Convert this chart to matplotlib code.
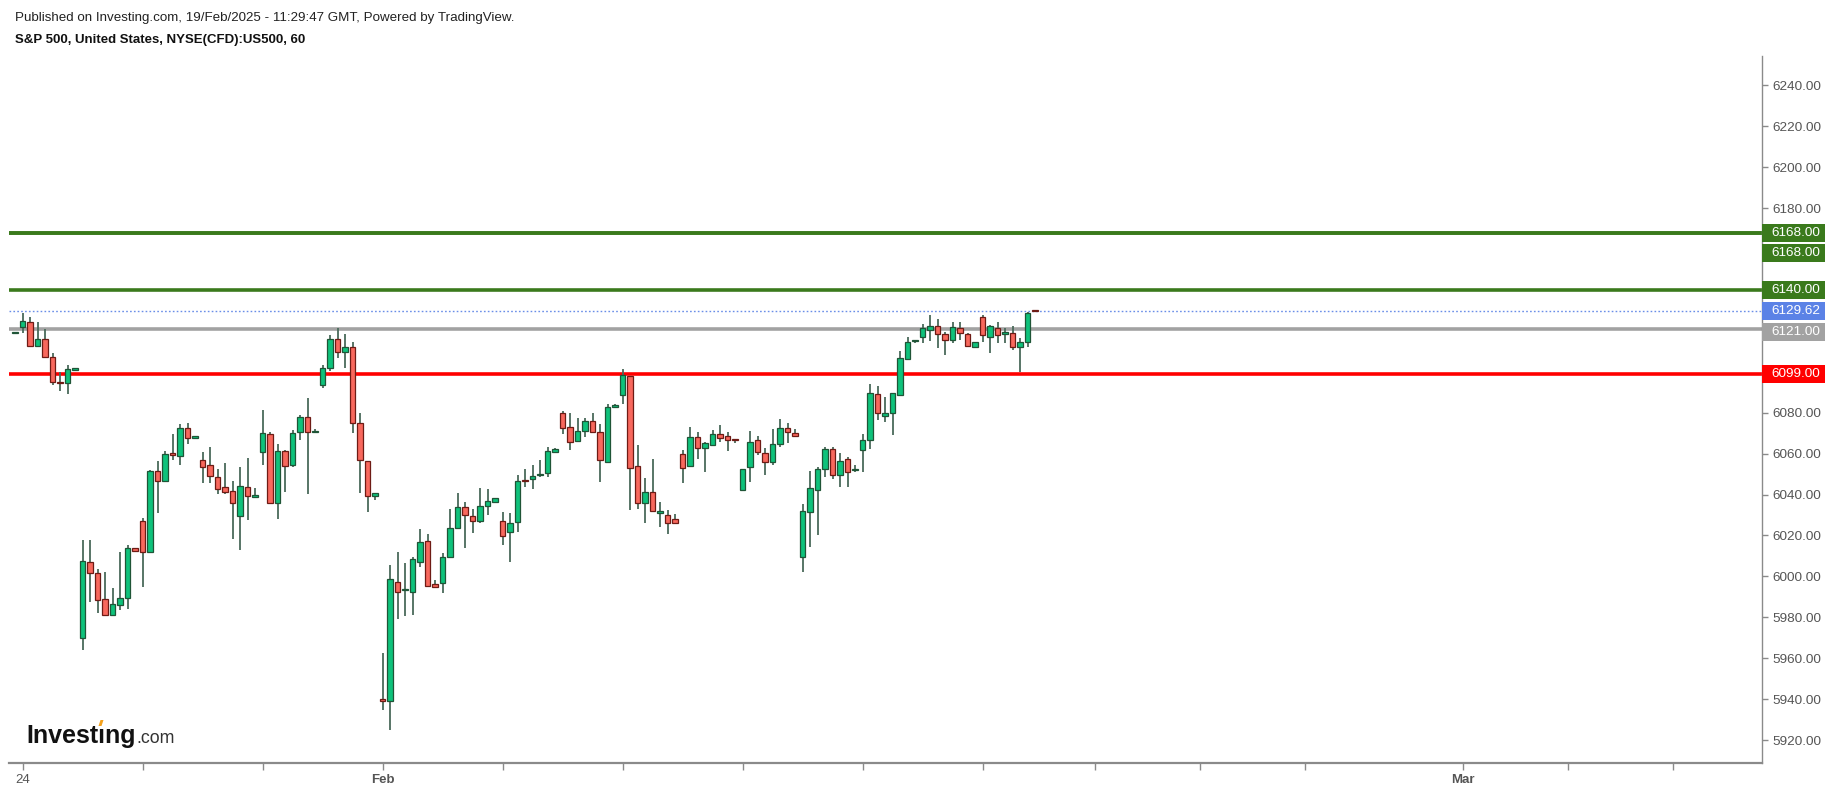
import numpy as np
import matplotlib.pyplot as plt
import matplotlib.transforms as mtransforms
from matplotlib.patches import Rectangle, Polygon

plt.rcParams['font.family'] = ['Liberation Sans', 'DejaVu Sans']

### Data: S&P 500 CFD, hourly bars (Jan 23 last bar .. Feb 18) ###

opens = [6118.8, 6121.7, 6124.1, 6112.6, 6115.8, 6107.0, 6094.8, 6094.3, 6101.0,
         5969.7, 6006.8, 6001.5, 5988.8, 5981.3, 5986.2, 5989.3, 6013.7,
         6027.2, 6011.7, 6051.6, 6046.6, 6059.8, 6058.8, 6072.3, 6067.6,
         6056.9, 6054.4, 6048.4, 6043.5, 6041.7, 6029.5, 6043.5, 6038.9,
         6060.6, 6069.4, 6035.7, 6061.4, 6054.4, 6070.4, 6078.0, 6070.4,
         6093.5, 6101.7, 6115.8, 6109.5, 6111.9, 6074.8, 6056.4, 6039.3,
         5939.9, 5939.1, 5997.1, 5993.1, 5992.2, 6006.8, 6017.4, 5996.1,
         5996.6, 6009.3, 6023.8, 6033.7, 6029.5, 6027.1, 6034.4, 6036.2,
         6027.2, 6021.5, 6026.4, 6046.9, 6047.4, 6049.3, 6050.3, 6060.6,
         6079.7, 6072.8, 6066.2, 6071.0, 6075.9, 6070.4, 6056.0, 6082.9,
         6088.6, 6097.9, 6053.9, 6035.7, 6041.1, 6031.1, 6030.0, 6027.9,
         6059.6, 6053.9, 6068.3, 6062.6, 6064.2, 6069.4, 6068.8, 6066.7,
         6042.2, 6053.3, 6066.6, 6060.1, 6055.7, 6064.5, 6072.3, 6069.9,
         6009.3, 6031.3, 6042.2, 6052.3, 6062.1, 6049.5, 6057.2, 6051.8,
         6061.7, 6066.6, 6088.9, 6078.4, 6079.7, 6088.6, 6106.2, 6114.8,
         6116.8, 6120.4, 6122.5, 6118.3, 6115.5, 6121.2, 6118.3, 6111.9,
         6126.6, 6116.8, 6121.2, 6118.6, 6118.8, 6111.9, 6114.4, 6129.9]
highs = [6119.3, 6128.9, 6126.9, 6124.5, 6120.7, 6109.3, 6100.0, 6103.1, 6101.6,
         6017.8, 6017.8, 6003.4, 6002.3, 5994.1, 6012.1, 6015.3, 6013.9,
         6028.3, 6051.9, 6056.5, 6061.4, 6069.6, 6074.3, 6074.8, 6068.2,
         6060.9, 6063.4, 6052.3, 6055.2, 6046.8, 6053.6, 6057.7, 6043.0,
         6081.3, 6070.7, 6064.7, 6061.6, 6071.5, 6078.9, 6087.0, 6071.8,
         6103.3, 6117.9, 6121.2, 6118.4, 6114.7, 6079.7, 6056.6, 6040.8,
         5962.7, 6005.5, 6012.1, 6006.4, 6009.6, 6023.0, 6020.5, 5998.2,
         6011.2, 6032.7, 6040.6, 6036.5, 6032.7, 6043.0, 6042.5, 6038.3,
         6031.6, 6030.8, 6049.5, 6052.3, 6054.4, 6056.9, 6063.4, 6062.6,
         6080.8, 6079.7, 6077.2, 6077.5, 6079.7, 6074.5, 6084.2, 6084.2,
         6101.2, 6098.1, 6064.2, 6047.9, 6057.2, 6036.5, 6032.4, 6030.3,
         6061.7, 6073.2, 6070.7, 6065.8, 6071.5, 6074.0, 6070.7, 6067.0,
         6052.5, 6071.2, 6068.8, 6062.6, 6071.8, 6076.7, 6074.8, 6071.8,
         6035.3, 6051.6, 6053.6, 6063.4, 6063.4, 6060.4, 6058.5, 6054.4,
         6069.4, 6094.0, 6093.0, 6087.8, 6089.8, 6110.3, 6116.8, 6115.5,
         6123.3, 6127.7, 6125.8, 6119.6, 6124.5, 6124.5, 6119.1, 6114.6,
         6127.7, 6122.7, 6124.5, 6121.2, 6122.5, 6116.3, 6129.4, 6130.1]
lows = [6118.7, 6118.8, 6111.9, 6111.9, 6106.6, 6093.5, 6090.6, 6089.1, 6100.9,
        5964.0, 5987.6, 5982.2, 5981.1, 5980.6, 5983.6, 5983.9, 6012.4,
        5994.9, 6011.5, 6030.8, 6046.3, 6056.9, 6054.4, 6064.7, 6067.3,
        6045.8, 6045.8, 6040.2, 6040.2, 6018.2, 6012.9, 6027.5, 6038.6,
        6054.4, 6035.3, 6028.0, 6041.4, 6053.3, 6066.6, 6040.2, 6069.9,
        6091.9, 6100.5, 6106.6, 6101.7, 6069.9, 6040.9, 6031.6, 6037.3,
        5934.7, 5924.9, 5979.1, 5980.6, 5981.1, 6004.7, 5994.6, 5994.4,
        5992.0, 6008.8, 6023.5, 6014.0, 6021.3, 6026.2, 6030.0, 6036.0,
        6015.3, 6006.8, 6021.5, 6043.5, 6042.7, 6048.7, 6048.7, 6060.4,
        6069.6, 6061.7, 6065.8, 6068.3, 6070.2, 6046.3, 6055.6, 6082.4,
        6084.2, 6032.4, 6032.7, 6026.2, 6031.3, 6024.3, 6020.7, 6026.0,
        6045.8, 6053.3, 6057.2, 6051.2, 6063.9, 6065.8, 6061.4, 6065.3,
        6042.0, 6046.3, 6059.3, 6049.5, 6054.4, 6063.1, 6065.3, 6068.3,
        6002.3, 6014.5, 6020.2, 6048.7, 6047.6, 6043.5, 6043.8, 6051.2,
        6051.2, 6062.1, 6076.4, 6075.6, 6069.1, 6088.4, 6105.7, 6113.9,
        6114.2, 6115.0, 6111.8, 6108.2, 6114.2, 6115.5, 6111.9, 6111.7,
        6114.7, 6109.3, 6114.2, 6114.2, 6110.6, 6100.0, 6112.3, 6129.5]
closes = [6119.0, 6125.0, 6112.6, 6115.8, 6107.0, 6094.8, 6094.4, 6101.2, 6101.4,
          6007.7, 6001.5, 5988.4, 5981.3, 5986.3, 5989.3, 6013.7, 6012.6,
          6011.7, 6051.6, 6046.6, 6059.6, 6059.3, 6072.3, 6067.4, 6068.0,
          6053.3, 6049.1, 6042.8, 6041.1, 6035.7, 6044.3, 6039.3, 6039.1,
          6069.9, 6035.7, 6061.4, 6054.1, 6069.9, 6078.0, 6070.4, 6070.9,
          6101.7, 6115.8, 6109.5, 6111.9, 6074.8, 6056.9, 6039.3, 6040.6,
          5939.2, 5998.5, 5992.2, 5993.4, 6008.3, 6016.6, 5995.3, 5994.6,
          6009.3, 6023.5, 6033.7, 6030.0, 6027.1, 6034.4, 6036.8, 6038.1,
          6019.7, 6025.9, 6046.8, 6046.4, 6049.0, 6049.6, 6061.4, 6062.1,
          6072.3, 6065.5, 6071.0, 6075.9, 6070.7, 6056.9, 6082.6, 6083.7,
          6098.4, 6052.8, 6035.7, 6041.1, 6031.9, 6031.4, 6025.9, 6026.2,
          6053.1, 6068.3, 6062.6, 6065.3, 6069.4, 6067.8, 6066.6, 6066.5,
          6052.3, 6065.5, 6060.6, 6055.7, 6064.5, 6072.3, 6070.4, 6068.6,
          6032.1, 6043.0, 6052.3, 6062.1, 6049.5, 6056.5, 6050.8, 6052.1,
          6066.6, 6089.4, 6079.7, 6079.7, 6089.4, 6106.5, 6114.4, 6115.1,
          6121.2, 6122.5, 6118.4, 6115.5, 6121.7, 6118.8, 6112.6, 6114.4,
          6118.0, 6122.5, 6118.0, 6118.9, 6111.9, 6114.4, 6128.5, 6129.6]

levels = [6168.0, 6168.0, 6140.0, 6121.0, 6099.0]
level_labels = ['6168.00', '6168.00', '6140.00', '6121.00', '6099.00']
last_price = 6129.62
price_ticks = np.arange(5920, 6241, 20)

x_tick_bars = [1, 17, 33, 49, 65, 81, 97, 113, 129, 144, 158, 172, 193, 207, 221]
x_tick_labels = ['24', '', '', 'Feb', '', '', '', '', '', '', '', '', 'Mar', '', '']

### Styling ###
up_fill, up_edge = '#0ec27b', '#1f5537'
dn_fill, dn_edge = '#f8685d', '#6e1b15'
wick_col = '#4a6a5a'
green_line, gray_line, red_line, blue_line = '#3a7a1c', '#a2a2a2', '#ff0000', '#6a8ee8'
level_colors = [green_line, green_line, green_line, gray_line, red_line]
label_shift_px = [0, -20, 0, -3.5, 0]

W, H = 1833, 792
fig = plt.figure(figsize=(W / 100, H / 100), dpi=100)
ax = fig.add_axes([9 / W, 29 / H, (1762 - 9) / W, (763 - 56) / H])

x = np.arange(len(opens))
o = np.array(opens); c = np.array(closes)
hi = np.array(highs); lo = np.array(lows)
up = c >= o
body_lo = np.minimum(o, c)
body_h = np.maximum(np.abs(c - o), 0.8)

ax.vlines(x, lo, hi, colors=wick_col, linewidth=1.3, zorder=2)
ax.bar(x[up], body_h[up], bottom=body_lo[up], width=0.72, color=up_fill,
       edgecolor=up_edge, linewidth=0.9, zorder=3)
ax.bar(x[~up], body_h[~up], bottom=body_lo[~up], width=0.72, color=dn_fill,
       edgecolor=dn_edge, linewidth=0.9, zorder=3)

ax.set_xlim(-0.8, 232.9)
ax.set_ylim(5908.8, 6254.3)

for lev, col in zip(levels, level_colors):
    ax.axhline(lev, color=col, linewidth=2.6, zorder=1)
ax.axhline(last_price, color=blue_line, linewidth=1.0, linestyle=(0, (1.2, 1.6)), zorder=1)

# price labels on the right axis
trans = mtransforms.blended_transform_factory(ax.transAxes, ax.transData)
px_per_pt = (763 - 56) / (6254.3 - 5908.8)
box_w = 63 / (1762 - 9)
box_h = 18 / px_per_pt
all_vals = levels[:3] + [last_price] + levels[3:]
all_text = level_labels[:3] + ['6129.62'] + level_labels[3:]
all_cols = level_colors[:3] + ['#5b82e6'] + level_colors[3:]
all_shift = label_shift_px[:3] + [0] + label_shift_px[3:]
for v, t, col, sh in zip(all_vals, all_text, all_cols, all_shift):
    yc = v + sh / px_per_pt
    ax.add_patch(Rectangle((1.0, yc - box_h / 2), box_w, box_h, transform=trans,
                           facecolor=col, edgecolor='none', clip_on=False, zorder=6))
    ax.text(1.0 + 9 / (1762 - 9), yc, t, transform=trans, color='white', fontsize=9.7,
            va='center', ha='left', zorder=7, clip_on=False)

for side in ['top', 'left']:
    ax.spines[side].set_visible(False)
ax.spines['bottom'].set_color('#8a8a8a')
ax.spines['bottom'].set_linewidth(1.6)
ax.spines['right'].set_color('#8a8a8a')
ax.spines['right'].set_linewidth(1.0)

ax.yaxis.tick_right()
ax.set_yticks(price_ticks)
ax.set_yticklabels(['%.2f' % v for v in price_ticks])
ax.tick_params(axis='y', colors='#8a8a8a', labelcolor='#555555', labelsize=9.7,
               length=4, width=1, pad=3.5)
ax.set_xticks(x_tick_bars)
ax.set_xticklabels(x_tick_labels)
ax.tick_params(axis='x', colors='#8a8a8a', labelcolor='#555555', labelsize=9.5,
               length=5, width=1, pad=3)
for lab in ax.get_xticklabels():
    if lab.get_text() in ('Feb', 'Mar'):
        lab.set_fontweight('bold')

fig.text(15 / W, 1 - 17.5 / H,
         'Published on Investing.com, 19/Feb/2025 - 11:29:47 GMT, Powered by TradingView.',
         fontsize=9.6, va='center', ha='left', color='#222222')
fig.text(15 / W, 1 - 40 / H, 'S&P 500, United States, NYSE(CFD):US500, 60',
         fontsize=9.5, fontweight='bold', va='center', ha='left', color='#111111')

# logo
fig.text(26 / W, 1 - 743 / H, 'Invest\u0131ng', fontsize=18.0, fontweight='bold',
         va='baseline', ha='left', color='#111111')
fig.text(136 / W, 1 - 743 / H, '.com', fontsize=12.8, va='baseline', ha='left', color='#333333')
fig.add_artist(Polygon([(98.5 / W, 1 - 726 / H), (101.5 / W, 1 - 726 / H),
                        (103.5 / W, 1 - 720 / H), (100.5 / W, 1 - 720 / H)],
                       closed=True, transform=fig.transFigure, facecolor='#f4a11c',
                       edgecolor='none'))

fig.savefig('out.png', dpi=100)
